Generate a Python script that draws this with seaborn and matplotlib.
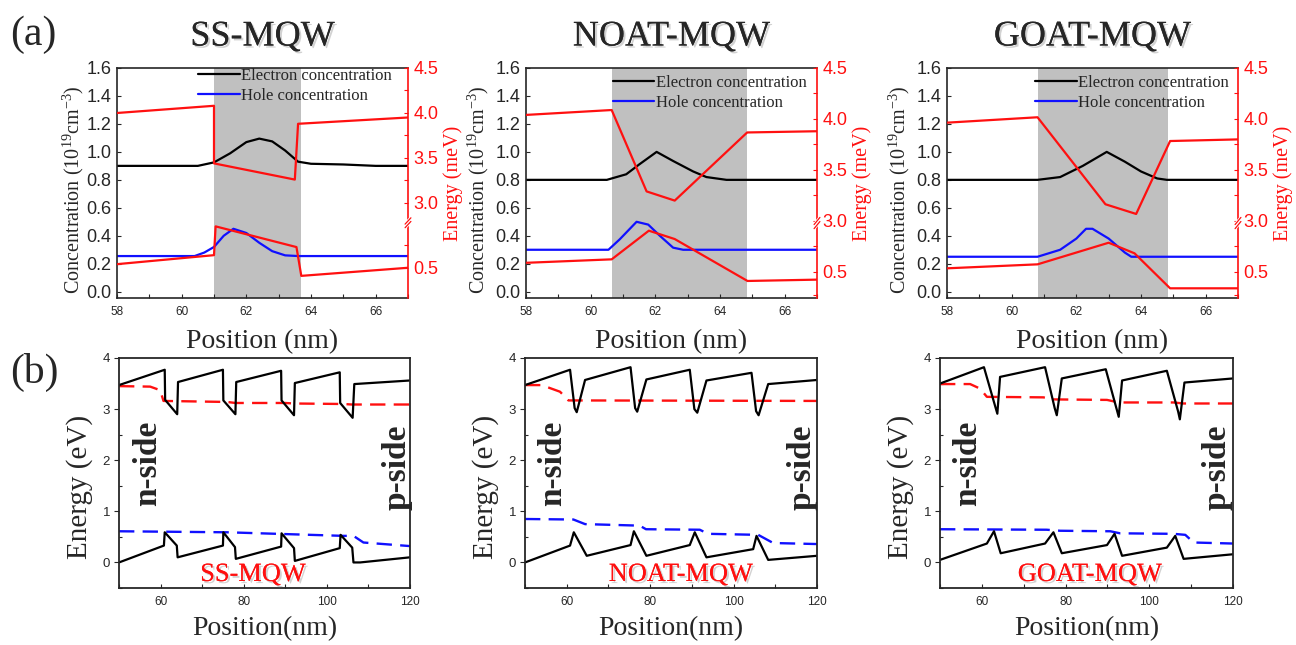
import numpy as np
import matplotlib
matplotlib.use("Agg")
import matplotlib.pyplot as plt
import matplotlib.patheffects as pe
import matplotlib.transforms as mtransforms
from matplotlib.lines import Line2D
from matplotlib.ticker import MultipleLocator, FixedLocator
import seaborn as sns

sns.set_theme(style="ticks")
SERIF = ["Liberation Serif", "DejaVu Serif"]
SANS = ["Liberation Sans", "DejaVu Sans"]
plt.rcParams["font.family"] = SERIF
plt.rcParams["mathtext.fontset"] = "custom"
plt.rcParams["mathtext.rm"] = "Liberation Serif"
plt.rcParams["mathtext.it"] = "Liberation Serif:italic"

# ---------------- (a) carrier concentration panels ----------------
titles = ["SS-MQW", "NOAT-MQW", "GOAT-MQW"]
well_bounds = [(61.0, 63.7), (60.65, 64.85), (60.8, 64.85)]

# electron concentration (1e19 cm^-3)
x_elec_ss = [58, 60.5, 61.0, 61.5, 62.0, 62.4, 62.8, 63.2, 63.6, 64.0, 65.0, 66.0, 67.0]
elec_ss = [0.90, 0.90, 0.925, 0.99, 1.07, 1.095, 1.075, 1.01, 0.93, 0.915, 0.91, 0.90, 0.90]
x_elec_no = [58, 60.5, 61.1, 61.5, 62.04, 62.55, 63.17, 63.58, 64.2, 67]
elec_no = [0.80, 0.80, 0.84, 0.91, 1.00, 0.935, 0.86, 0.82, 0.80, 0.80]
x_elec_go = [58, 60.8, 61.5, 62.2, 62.94, 63.5, 64.0, 64.5, 64.8, 67]
elec_go = [0.80, 0.80, 0.82, 0.90, 1.00, 0.93, 0.86, 0.81, 0.80, 0.80]

# hole concentration
x_hole_ss = [58, 60.4, 60.7, 61.0, 61.3, 61.6, 62.0, 62.4, 62.8, 63.2, 63.6, 67.0]
hole_ss = [0.255, 0.255, 0.28, 0.32, 0.40, 0.45, 0.42, 0.35, 0.29, 0.26, 0.255, 0.255]
x_hole_no = [58, 60.55, 60.9, 61.42, 61.78, 62.14, 62.55, 62.86, 67]
hole_no = [0.30, 0.30, 0.375, 0.50, 0.48, 0.40, 0.315, 0.30, 0.30]
x_hole_go = [58, 60.8, 61.5, 62.0, 62.3, 62.5, 63.0, 63.5, 63.7, 67]
hole_go = [0.25, 0.25, 0.30, 0.38, 0.45, 0.45, 0.38, 0.28, 0.25, 0.25]

# energy (meV), upper branch of the broken right axis
x_eup_ss = [58, 61.0, 61.0, 63.5, 63.6, 67]
eup_ss = [4.00, 4.08, 3.44, 3.26, 3.88, 3.95]
x_eup_no = [58, 60.65, 61.73, 62.6, 64.84, 67]
eup_no = [4.04, 4.088, 3.29, 3.20, 3.868, 3.88]
x_eup_go = [58, 60.8, 62.9, 63.85, 64.9, 67]
eup_go = [3.964, 4.017, 3.164, 3.069, 3.784, 3.80]

# energy (meV), lower branch of the broken right axis
x_elo_ss = [58, 61.0, 61.05, 63.55, 63.7, 67]
elo_ss = [0.54, 0.64, 0.96, 0.73, 0.41, 0.50]
x_elo_no = [58, 60.65, 61.8, 62.6, 64.85, 67]
elo_no = [0.59, 0.624, 0.905, 0.823, 0.412, 0.425]
x_elo_go = [58, 60.8, 63.0, 63.8, 64.9, 67]
elo_go = [0.536, 0.575, 0.787, 0.683, 0.34, 0.34]

# broken axis: lower-branch shift and visible range of the right axis
axis_shift = [1.78, 2.0, 2.0]
axis_bottom = [1.944, 2.245, 2.245]
axis_break = [2.78, 2.98, 2.98]
right_tick_labels = ["0.5", "3.0", "3.5", "4.0", "4.5"]
right_tick_values = [0.5, 3.0, 3.5, 4.0, 4.5]

# ---------------- (b) band diagram panels ----------------
xc_ss = [50, 61.0, 61.1, 64.0, 64.2, 75.0, 75.1, 78.0, 78.2, 89.0, 89.1, 92.1, 92.3, 103.1, 103.2, 106.2, 106.6, 120]
Ec_ss = [3.47, 3.77, 3.18, 2.90, 3.53, 3.77, 3.17, 2.90, 3.53, 3.75, 3.17, 2.88, 3.51, 3.72, 3.12, 2.83, 3.49, 3.56]
xv_ss = [50, 60.8, 61.0, 63.9, 64.1, 75.0, 75.1, 77.9, 78.1, 89.0, 89.1, 92.1, 92.3, 103.1, 103.3, 106.1, 106.4, 108.0, 120]
Ev_ss = [0.0, 0.33, 0.59, 0.33, 0.10, 0.33, 0.59, 0.30, 0.07, 0.31, 0.57, 0.28, 0.03, 0.28, 0.54, 0.29, 0.0, 0.0, 0.10]
xfn_ss = [50, 57.5, 59.9, 60.7, 76, 78, 90, 92, 104, 106, 120]
Efn_ss = [3.45, 3.44, 3.37, 3.16, 3.14, 3.12, 3.12, 3.11, 3.10, 3.09, 3.09]
xfp_ss = [50, 76, 88, 104, 106.4, 108.8, 120]
Efp_ss = [0.61, 0.59, 0.56, 0.52, 0.52, 0.39, 0.32]

xc_no = [50, 60.8, 61.9, 62.4, 64.4, 75.3, 76.4, 76.9, 79.1, 89.5, 90.6, 91.3, 93.5, 104.3, 105.4, 106.0, 108.3, 120]
Ec_no = [3.47, 3.77, 3.02, 2.94, 3.57, 3.82, 3.02, 2.95, 3.58, 3.77, 3.0, 2.93, 3.56, 3.71, 2.96, 2.88, 3.49, 3.57]
xv_no = [50, 60.8, 61.7, 64.8, 75.3, 76.1, 79.1, 89.5, 90.7, 93.5, 104.7, 105.5, 108.3, 120]
Ev_no = [0.0, 0.33, 0.59, 0.13, 0.34, 0.61, 0.13, 0.34, 0.59, 0.10, 0.26, 0.52, 0.05, 0.13]
xfn_no = [50, 54, 58.4, 60.4, 120]
Efn_no = [3.47, 3.47, 3.34, 3.17, 3.16]
xfp_no = [50, 61.6, 64.4, 77.5, 79, 91.9, 93.9, 105.9, 109.5, 120]
Efp_no = [0.85, 0.84, 0.75, 0.72, 0.65, 0.64, 0.56, 0.54, 0.38, 0.36]

xc_go = [50, 60.5, 63.2, 63.7, 64.35, 75.1, 77.4, 77.9, 79.1, 89.6, 92.2, 92.7, 93.5, 104.2, 106.9, 107.3, 108.4, 120]
Ec_go = [3.50, 3.82, 3.05, 2.91, 3.63, 3.82, 3.02, 2.88, 3.60, 3.78, 3.0, 2.85, 3.56, 3.75, 2.95, 2.80, 3.52, 3.60]
xv_go = [50, 61.2, 62.9, 64.5, 75.1, 77.1, 79.1, 89.9, 91.7, 93.5, 104.2, 106.2, 108.2, 120]
Ev_go = [0.05, 0.37, 0.61, 0.18, 0.37, 0.59, 0.18, 0.34, 0.56, 0.13, 0.29, 0.52, 0.07, 0.16]
xfn_go = [50, 57.2, 59.6, 61.2, 74.7, 77.1, 89.9, 92.7, 105.8, 108.2, 120]
Efn_go = [3.49, 3.49, 3.40, 3.24, 3.23, 3.19, 3.18, 3.13, 3.13, 3.11, 3.11]
xfp_go = [50, 75.5, 78.7, 90.7, 93, 105.8, 108.6, 110.6, 120]
Efp_go = [0.65, 0.64, 0.62, 0.61, 0.57, 0.56, 0.54, 0.39, 0.37]

# ---------------- figure ----------------
W, H = 1296, 645
fig = plt.figure(figsize=(W / 100, H / 100), dpi=100)


def box(l, r, t, b):
    return [l / W, 1 - b / H, (r - l) / W, (b - t) / H]


top_boxes = [box(117, 408, 68, 298), box(526, 817, 68, 298), box(947, 1238, 68, 298)]
bot_boxes = [box(119, 410, 358, 588), box(525, 817, 358, 588), box(940, 1233, 358, 588)]

RED = "#ff1010"
BLUE = "#1010ff"
GRAY = "#c0c0c0"
shadow = [pe.withSimplePatchShadow(offset=(1.5, -1.5), shadow_rgbFace="0.5", alpha=0.35), pe.Normal()]

conc = [
    (x_elec_ss, elec_ss, x_hole_ss, hole_ss, x_eup_ss, eup_ss, x_elo_ss, elo_ss),
    (x_elec_no, elec_no, x_hole_no, hole_no, x_eup_no, eup_no, x_elo_no, elo_no),
    (x_elec_go, elec_go, x_hole_go, hole_go, x_eup_go, eup_go, x_elo_go, elo_go),
]
legend_anchor = [(0.255, 1.03), (0.275, 1.0), (0.28, 1.0)]
ylab_x = [-0.105, -0.12, -0.12]

for i in range(3):
    xe, ye, xh, yh, xu, yu, xl, yl = conc[i]
    ax = fig.add_axes(top_boxes[i])
    ax.axvspan(*well_bounds[i], color=GRAY, lw=0, zorder=0)
    sns.lineplot(x=xe, y=ye, ax=ax, color="black", lw=1.6, sort=False, estimator=None, legend=False)
    sns.lineplot(x=xh, y=yh, ax=ax, color=BLUE, lw=1.6, sort=False, estimator=None, legend=False)
    ax.set_xlim(58, 67)
    ax.set_ylim(-0.045, 1.6)
    ax.xaxis.set_minor_locator(MultipleLocator(1))
    ax.set_yticks(np.arange(0, 1.61, 0.2))
    ax.set_yticklabels([f"{v:.1f}" for v in np.arange(0, 1.61, 0.2)], family=SANS, fontsize=13)
    ax.set_xticks(np.arange(58, 67, 2))
    ax.set_xticklabels([str(v) for v in range(58, 67, 2)], family=SANS, fontsize=8.5)
    ax.tick_params(axis="both", which="both", direction="in", length=3, width=0.8, pad=4)
    ax.tick_params(axis="x", which="major", pad=6)
    ax.spines["right"].set_visible(False)
    for s in ["left", "bottom", "top"]:
        ax.spines[s].set_linewidth(1.2)
    ax.set_xlabel("Position (nm)", fontsize=20)
    ax.xaxis.set_label_coords(0.5, -0.135)
    ax.set_ylabel(r"Concentration (10$^{19}$cm$^{-3}$)", fontsize=14.5)
    ax.yaxis.set_label_coords(ylab_x[i], 0.47)

    handles = [Line2D([], [], color="black", lw=1.6), Line2D([], [], color=BLUE, lw=1.6)]
    ax.legend(handles, ["Electron concentration", "Hole concentration"], loc="upper left",
              bbox_to_anchor=legend_anchor[i], frameon=False, fontsize=12,
              handlelength=2.5, handletextpad=0.1, labelspacing=0.25, borderaxespad=0)

    ax2 = ax.twinx()
    shift = axis_shift[i]
    sns.lineplot(x=xu, y=yu, ax=ax2, color=RED, lw=1.6, sort=False, estimator=None, legend=False)
    sns.lineplot(x=xl, y=[v + shift for v in yl], ax=ax2, color=RED, lw=1.6, sort=False,
                 estimator=None, legend=False)
    ax2.set_ylim(axis_bottom[i], 4.5)
    ax2.set_xlim(58, 67)
    pos = [right_tick_values[0] + shift] + right_tick_values[1:]
    ax2.yaxis.set_major_locator(FixedLocator(pos))
    ax2.set_yticklabels(right_tick_labels, family=SANS, fontsize=13, color=RED)
    minors = [4.25, 3.75, 3.25, right_tick_values[0] + shift + 0.25]
    if i > 0:
        minors = [4.25, 3.75, 3.25, 2.75, 2.25 + 0.02]
    ax2.yaxis.set_minor_locator(FixedLocator(minors))
    ax2.tick_params(axis="y", which="both", direction="in", colors=RED, length=3, width=0.8, pad=4)
    ax2.spines["right"].set_color(RED)
    ax2.spines["right"].set_linewidth(1.2)
    for s in ["left", "bottom", "top"]:
        ax2.spines[s].set_visible(False)
    ax2.set_ylabel("Energy (meV)", color=RED, fontsize=14.5, rotation=90)
    ax2.yaxis.set_label_coords(1.12, 0.5)
    ax2.yaxis.label.set_va("top")
    ax2.set_xlabel("")
    # axis break marker
    yb = axis_break[i]
    trans = mtransforms.blended_transform_factory(ax2.transAxes, ax2.transData)
    ax2.plot([0.985, 1.015], [yb - 0.05, yb + 0.05], transform=trans, color="white", lw=4,
             clip_on=False, zorder=5, solid_capstyle="butt")
    for dy in (-0.02, 0.02):
        ax2.plot([0.99, 1.01], [yb - 0.035 + dy, yb + 0.035 + dy], transform=trans, color=RED,
                 lw=0.9, clip_on=False, zorder=6)

    cx = (top_boxes[i][0] + top_boxes[i][2] / 2)
    fig.text(cx, 1 - 37 / H, titles[i], ha="center", va="center", fontsize=26,
             path_effects=shadow)

bands = [
    (xc_ss, Ec_ss, xv_ss, Ev_ss, xfn_ss, Efn_ss, xfp_ss, Efp_ss),
    (xc_no, Ec_no, xv_no, Ev_no, xfn_no, Efn_no, xfp_no, Efp_no),
    (xc_go, Ec_go, xv_go, Ev_go, xfn_go, Efn_go, xfp_go, Efp_go),
]
nside_x = [148, 553, 968]
pside_x = [397, 802, 1217]
label_x = [253, 681, 1090]

for i in range(3):
    xc, Ec, xv, Ev, xn, En, xp, Ep = bands[i]
    ax = fig.add_axes(bot_boxes[i])
    dash = (0, (6.5, 3.5))
    sns.lineplot(x=xn, y=En, ax=ax, color=RED, lw=1.7, linestyle=dash, sort=False, estimator=None, legend=False)
    sns.lineplot(x=xp, y=Ep, ax=ax, color=BLUE, lw=1.7, linestyle=dash, sort=False, estimator=None, legend=False)
    sns.lineplot(x=xc, y=Ec, ax=ax, color="black", lw=1.6, sort=False, estimator=None, legend=False)
    sns.lineplot(x=xv, y=Ev, ax=ax, color="black", lw=1.6, sort=False, estimator=None, legend=False)
    ax.set_xlim(50, 120)
    ax.set_ylim(-0.5, 4)
    ax.set_xticks([60, 80, 100, 120])
    ax.set_xticklabels(["60", "80", "100", "120"], family=SANS, fontsize=8.5)
    ax.xaxis.set_minor_locator(MultipleLocator(10))
    ax.set_yticks([0, 1, 2, 3, 4])
    ax.set_yticklabels(["0", "1", "2", "3", "4"], family=SANS, fontsize=9.5)
    ax.yaxis.set_minor_locator(MultipleLocator(0.5))
    ax.tick_params(axis="x", which="both", direction="in", length=3, width=0.8, pad=6)
    ax.tick_params(axis="y", which="major", direction="out", length=3.5, width=0.8, pad=3)
    ax.tick_params(axis="y", which="minor", direction="in", length=2.5, width=0.8)
    for s in ax.spines.values():
        s.set_linewidth(1.3)
    ax.set_xlabel("Position(nm)", fontsize=20)
    ax.xaxis.set_label_coords(0.5, -0.12)
    ax.set_ylabel("Energy (eV)", fontsize=21)
    ax.yaxis.set_label_coords(-0.09, 0.44)

    fig.text(nside_x[i] / W, 1 - 463 / H, "n-side", rotation=90, ha="center", va="center",
             fontsize=24, fontweight="bold")
    fig.text(pside_x[i] / W, 1 - 467 / H, "p-side", rotation=90, ha="center", va="center",
             fontsize=24, fontweight="bold")
    fig.text(label_x[i] / W, 1 - 575 / H, titles[i], ha="center", va="center", fontsize=19,
             color=RED, path_effects=shadow)

fig.text(10 / W, 1 - 35 / H, "(a)", ha="left", va="center", fontsize=30)
fig.text(10 / W, 1 - 372 / H, "(b)", ha="left", va="center", fontsize=30)

fig.savefig("out.png", dpi=100)
